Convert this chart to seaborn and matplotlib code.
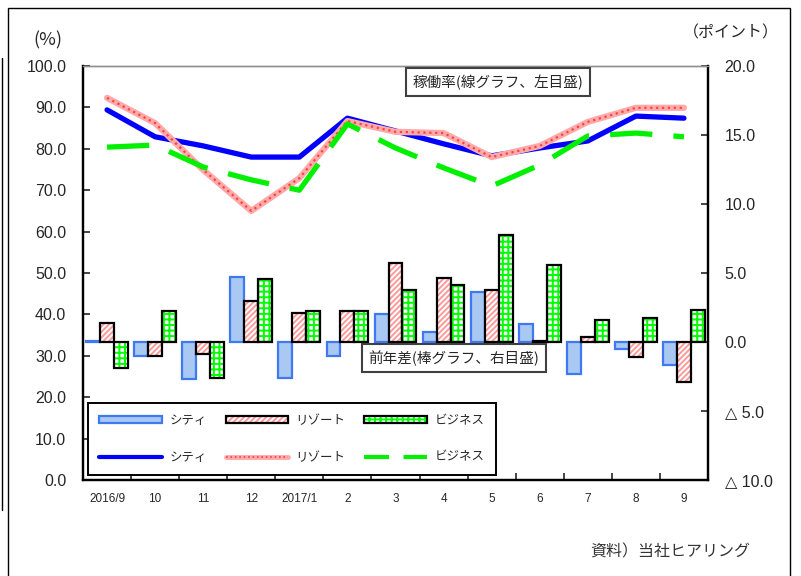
import numpy as np
import pandas as pd
import matplotlib
matplotlib.use('Agg')
import matplotlib.pyplot as plt
import matplotlib.patches as mpatches
from matplotlib.lines import Line2D
from matplotlib.colors import to_rgba
from matplotlib.ticker import FixedLocator, FuncFormatter
import seaborn as sns

# ---- data ----
months = ['2016/9', '10', '11', '12', '2017/1', '2', '3', '4', '5', '6', '7', '8', '9']
types = ['シティ', 'リゾート', 'ビジネス']

# occupancy rate (%), left axis
city_rate   = [89.4, 82.9, 80.7, 78.0, 78.0, 87.4, 84.3, 81.2, 78.3, 80.2, 81.9, 87.9, 87.4]
resort_rate = [92.3, 86.2, 74.9, 65.0, 72.9, 86.7, 84.1, 83.8, 78.0, 80.7, 86.5, 89.9, 89.9]
biz_rate    = [80.4, 80.9, 75.6, 72.5, 70.0, 86.0, 80.2, 75.4, 71.0, 76.1, 83.1, 83.8, 82.9]

# year-on-year difference (points), right axis
city_diff   = [0.1, -1.0, -2.7, 4.7, -2.6, -1.0, 2.0, 0.75, 3.6, 1.3, -2.35, -0.5, -1.7]
resort_diff = [1.4, -1.0, -0.9, 3.0, 2.1, 2.25, 5.75, 4.65, 3.75, 0.1, 0.35, -1.1, -2.9]
biz_diff    = [-1.9, 2.25, -2.6, 4.6, 2.25, 2.25, 3.8, 4.1, 7.75, 5.6, 1.6, 1.75, 2.35]

left_ticks = [0, 10, 20, 30, 40, 50, 60, 70, 80, 90, 100]
right_ticks = [-10, -5, 0, 5, 10, 15, 20]

sns.set_style('white')
plt.rcParams['font.family'] = ['Liberation Sans', 'DejaVu Sans', 'Noto Sans CJK JP']
plt.rcParams['hatch.linewidth'] = 1.4
JP = ['Noto Sans CJK JP', 'DejaVu Sans']

fig = plt.figure(figsize=(8.01, 5.76), dpi=100)
ax = fig.add_axes([83 / 801, 96 / 576, 625 / 801, 414 / 576])
ax2 = ax.twinx()

# ---- bars (right axis) ----
bars = pd.DataFrame({
    'month': months * 3,
    'type': np.repeat(types, len(months)),
    'diff': city_diff + resort_diff + biz_diff,
})
sns.barplot(data=bars, x='month', y='diff', hue='type', order=months,
            hue_order=types, width=0.87, errorbar=None, legend=False,
            palette=['#A9C8F2', 'white', 'white'], ax=ax2)

bar_styles = [
    dict(face='#A9C8F2', edge='#3F78F0', hatch=None, hcol=None),
    dict(face='white', edge='black', hatch='//////', hcol='#FF9A9A'),
    dict(face='white', edge='black', hatch='+++', hcol='#00FF00'),
]
for cont, st in zip(ax2.containers, bar_styles):
    for p in cont.patches:
        p.set_facecolor(st['face'])
        p.set_edgecolor(st['edge'])
        p.set_linewidth(1.6)
        if st['hatch']:
            p.set_hatch(st['hatch'])
            p._hatch_color = to_rgba(st['hcol'])

ax2.set_ylim(-10, 20)
ax2.yaxis.set_major_locator(FixedLocator(right_ticks))
ax2.yaxis.set_major_formatter(FuncFormatter(
    lambda v, _: f'{v:.1f}' if v >= 0 else f'△ {abs(v):.1f}'))
ax2.set_ylabel('')
ax2.set_xlabel('')
ax2.tick_params(axis='y', direction='in', length=5, width=1.2, pad=12,
                labelsize=11.5, right=True, left=False)

# ---- lines (left axis) ----
xs = np.arange(len(months))
sns.lineplot(x=xs, y=city_rate, color='#0000FF', lw=3.8, ax=ax)
sns.lineplot(x=xs, y=resort_rate, color='#FFAAAA', lw=4.5, ax=ax)
sns.lineplot(x=xs, y=resort_rate, color='#FF4040', lw=1.6, ls=':', ax=ax)
sns.lineplot(x=xs, y=biz_rate, color='#00F000', lw=3.8, ax=ax)
ax.lines[-1].set_dashes((8, 4))

ax.set_zorder(ax2.get_zorder() + 1)
ax.patch.set_visible(False)
ax.set_ylim(0, 100)
ax.set_xlim(-0.5, len(months) - 0.5)
ax2.set_xlim(-0.5, len(months) - 0.5)
ax.yaxis.set_major_locator(FixedLocator(left_ticks))
ax.yaxis.set_major_formatter(FuncFormatter(lambda v, _: f'{v:.1f}'))
ax.tick_params(axis='y', direction='in', length=5, width=1.2, pad=12,
               labelsize=11.5, left=True)

ax.set_xticks(xs)
ax.set_xticklabels(months)
ax.set_xticks(np.arange(len(months) + 1) - 0.5, minor=True)
ax.tick_params(axis='x', which='major', length=0, pad=9, labelsize=8.5)
ax.tick_params(axis='x', which='minor', direction='in', length=5, width=1.2,
               bottom=True)
ax2.tick_params(axis='x', which='both', bottom=False, labelbottom=False)

for a in (ax, ax2):
    for s in ('left', 'right', 'bottom'):
        a.spines[s].set_color('black')
        a.spines[s].set_linewidth(1.6)
    a.spines['top'].set_color('#909090')
    a.spines['top'].set_linewidth(1.0)

# ---- legend ----
h_city = mpatches.Patch(facecolor='#A9C8F2', edgecolor='#3F78F0', lw=1.6)
h_res = mpatches.Patch(facecolor='white', edgecolor='black', lw=1.6, hatch='//////')
h_res._hatch_color = to_rgba('#FF9A9A')
h_biz = mpatches.Patch(facecolor='white', edgecolor='black', lw=1.6, hatch='+++')
h_biz._hatch_color = to_rgba('#00FF00')
l_city = Line2D([], [], color='#0000FF', lw=3)
l_res = (Line2D([], [], color='#FFAAAA', lw=3.5), Line2D([], [], color='#FF4040', lw=1.2, ls=':'))
l_biz = Line2D([], [], color='#00F000', lw=3, dashes=(6, 3.5))
leg = ax.legend([h_city, l_city, h_res, l_res, h_biz, l_biz],
                ['シティ', 'シティ', 'リゾート', 'リゾート', 'ビジネス', 'ビジネス'],
                ncol=3, loc='lower left', bbox_to_anchor=(0.008, 0.012),
                borderaxespad=0, fancybox=False, framealpha=1,
                edgecolor='black', handlelength=5.0, handleheight=0.45,
                handletextpad=0.6, columnspacing=1.5, labelspacing=1.9,
                borderpad=0.9, prop={'family': JP, 'size': 9})
leg.get_frame().set_linewidth(1.4)

# ---- annotations ----
box = dict(boxstyle='square,pad=0.45', facecolor='white', edgecolor='#404040', lw=1.5)
fig.text(498 / 801, 1 - 82 / 576, '稼働率(線グラフ、左目盛)', ha='center', va='center',
         fontsize=10.5, family=JP, bbox=box, zorder=10)
fig.text(454 / 801, 1 - 358 / 576, '前年差(棒グラフ、右目盛)', ha='center', va='center',
         fontsize=10.5, family=JP, bbox=box, zorder=10)
fig.text(48 / 801, 1 - 40 / 576, '(%)', ha='center', va='center', fontsize=13, family=JP)
fig.text(731 / 801, 1 - 33 / 576, '（ポイント）', ha='center', va='center', fontsize=11.5, family=JP)
fig.text(670 / 801, 1 - 552 / 576, '資料）当社ヒアリング', ha='center', va='center',
         fontsize=11.5, family=JP, color='#333333')

# outer frame
fig.add_artist(mpatches.Rectangle((8 / 801, -0.05), 782 / 801, 1.05 - 8 / 576,
                                  transform=fig.transFigure, fill=False,
                                  edgecolor='black', lw=1.0))
fig.add_artist(Line2D([1.5 / 801, 1.5 / 801], [1 - 58 / 576, 1 - 510 / 576],
                      transform=fig.transFigure, color='black', lw=1.0))

fig.savefig('out.png', dpi=100)
